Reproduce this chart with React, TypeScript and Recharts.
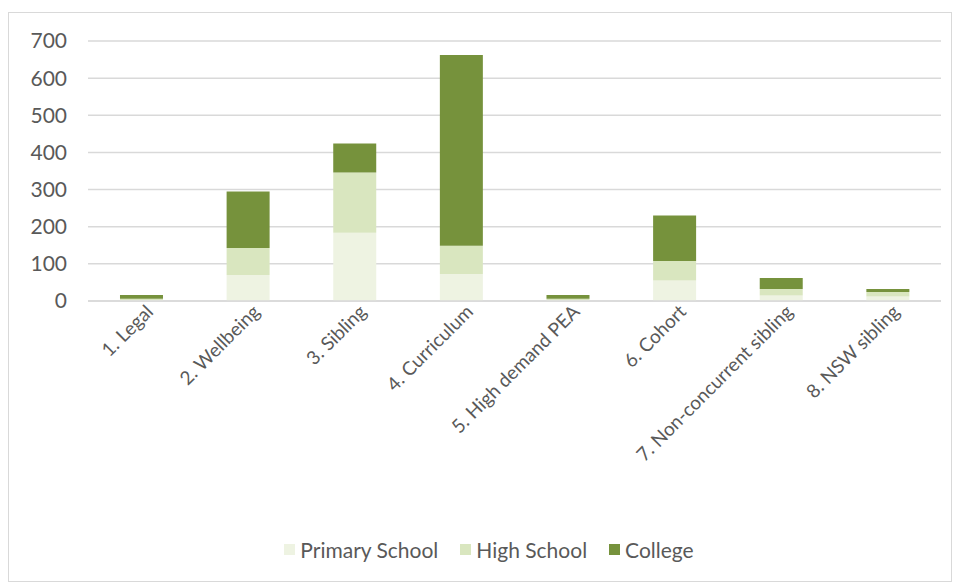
import React from "react";
import { BarChart, Bar, XAxis, YAxis, CartesianGrid, Legend } from "recharts";

const categories = [
  "1. Legal",
  "2. Wellbeing",
  "3. Sibling",
  "4. Curriculum",
  "5. High demand PEA",
  "6. Cohort",
  "7. Non-concurrent sibling",
  "8. NSW sibling",
];
const primarySchool = [3, 70, 184, 73, 3, 55, 15, 12];
const highSchool = [3, 73, 162, 76, 3, 53, 17, 12];
const college = [10, 152, 78, 513, 10, 122, 30, 8];
const yTicks = [0, 100, 200, 300, 400, 500, 600, 700];

const seriesNames = ["Primary School", "High School", "College"];
const seriesColors = ["#eef3e2", "#d9e6bf", "#76923c"];

const data = categories.map((c, i) => ({
  name: c,
  primary: primarySchool[i],
  high: highSchool[i],
  college: college[i],
}));

const FONT = "Lato, 'Open Sans', sans-serif";
const TEXT = "#595959";

const XTick = (props: any) => {
  const { x, y, payload } = props;
  return (
    <text
      x={x + 13}
      y={y + 4}
      transform={`rotate(-45, ${x + 13}, ${y + 4})`}
      textAnchor="end"
      fill={TEXT}
      fontSize={19}
      fontFamily={FONT}
    >
      {payload.value}
    </text>
  );
};

const LegendContent = () => (
  <div
    style={{
      display: "flex",
      justifyContent: "center",
      alignItems: "center",
      fontFamily: FONT,
      fontSize: 21,
      color: TEXT,
      paddingLeft: 50,
    }}
  >
    {seriesNames.map((n, i) => (
      <div key={n} style={{ display: "flex", alignItems: "center", marginRight: 22 }}>
        <span
          style={{
            display: "inline-block",
            width: 11,
            height: 11,
            background: seriesColors[i],
            marginRight: 5,
          }}
        />
        <span>{n}</span>
      </div>
    ))}
  </div>
);

export default function App() {
  return (
    <div
      style={{
        width: 942,
        height: 568,
        marginTop: 4,
        border: "1px solid #d9d9d9",
        background: "#fff",
      }}
    >
      <BarChart
        width={942}
        height={568}
        data={data}
        margin={{ top: 28, right: 10, left: 0, bottom: 14 }}
        barCategoryGap="30%"
      >
        <CartesianGrid vertical={false} stroke="#d9d9d9" strokeWidth={1.5} />
        <XAxis
          dataKey="name"
          interval={0}
          height={236}
          tick={<XTick />}
          tickLine={false}
          axisLine={{ stroke: "#d9d9d9", strokeWidth: 1.5 }}
        />
        <YAxis
          width={79}
          domain={[0, 700]}
          ticks={yTicks}
          tickLine={false}
          axisLine={false}
          tick={{ fill: TEXT, fontSize: 21, fontFamily: FONT, dx: -13 }}
        />
        <Legend verticalAlign="bottom" height={30} content={<LegendContent />} />
        <Bar dataKey="primary" name={seriesNames[0]} stackId="a" fill={seriesColors[0]} isAnimationActive={false} />
        <Bar dataKey="high" name={seriesNames[1]} stackId="a" fill={seriesColors[1]} isAnimationActive={false} />
        <Bar dataKey="college" name={seriesNames[2]} stackId="a" fill={seriesColors[2]} isAnimationActive={false} />
      </BarChart>
    </div>
  );
}
